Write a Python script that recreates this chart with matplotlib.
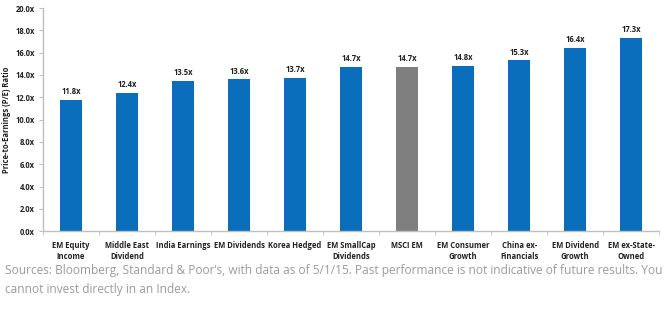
import matplotlib
matplotlib.use("Agg")
import matplotlib.pyplot as plt
import numpy as np

# ── Data ────────────────────────────────────────────────
categories = ["EM Equity\nIncome", "Middle East\nDividend", "India Earnings",
              "EM Dividends", "Korea Hedged", "EM SmallCap\nDividends", "MSCI EM",
              "EM Consumer\nGrowth", "China ex-\nFinancials", "EM Dividend\nGrowth",
              "EM ex-State-\nOwned"]
pe_ratio = [11.8, 12.4, 13.5, 13.6, 13.7, 14.7, 14.7, 14.8, 15.3, 16.4, 17.3]
benchmark = "MSCI EM"
yticks = [0, 2, 4, 6, 8, 10, 12, 14, 16, 18, 20]

BLUE = "#0A6EBD"
GRAY = "#7F7F7F"
FONT = "Open Sans"

fig = plt.figure(figsize=(6.7, 3.09), dpi=100)
ax = fig.add_axes([0.064, 0.252, 0.92, 0.722])

x = np.arange(len(categories))
colors = [GRAY if c == benchmark else BLUE for c in categories]
bars = ax.bar(x, pe_ratio, width=0.4, color=colors, zorder=2)

for b, v in zip(bars, pe_ratio):
    ax.text(b.get_x() + b.get_width() / 2, v + 0.35, f"{v:.1f}x",
            ha="center", va="bottom", fontsize=5.5, fontweight="bold",
            family=FONT, color="#222222")

ax.set_xlim(-0.5, len(categories) - 0.5)
ax.set_ylim(0, 20)
ax.set_yticks(yticks)
ax.set_yticklabels([f"{t:.1f}x" for t in yticks], fontsize=5.5,
                   fontweight="bold", family=FONT, color="#222222")
ax.set_xticks(x)
ax.set_xticklabels(categories, fontsize=5.5, fontweight="bold",
                   family=FONT, color="#222222", linespacing=1.3)
ax.set_xticks(np.arange(len(categories) + 1) - 0.5, minor=True)
ax.tick_params(axis="x", which="major", length=0, pad=7)
ax.tick_params(axis="x", which="minor", length=3, color="#BFBFBF")
ax.tick_params(axis="y", length=3, color="#BFBFBF", pad=3)
ax.set_ylabel("Price-to-Earnings (P/E) Ratio", fontsize=5.5,
              fontweight="bold", family=FONT, color="#222222", labelpad=3)

for s in ["top", "right"]:
    ax.spines[s].set_visible(False)
for s in ["left", "bottom"]:
    ax.spines[s].set_color("#BFBFBF")
    ax.spines[s].set_linewidth(1.0)

fig.text(0.008, 0.125, "Sources: Bloomberg, Standard & Poor\u2019s, with data as of 5/1/15. "
         "Past performance is not indicative of future results. You",
         fontsize=8.6, family=FONT, color="#9B9B9B", va="center")
fig.text(0.008, 0.062, "cannot invest directly in an Index.",
         fontsize=8.6, family=FONT, color="#9B9B9B", va="center")

fig.savefig("out.png", dpi=100)
